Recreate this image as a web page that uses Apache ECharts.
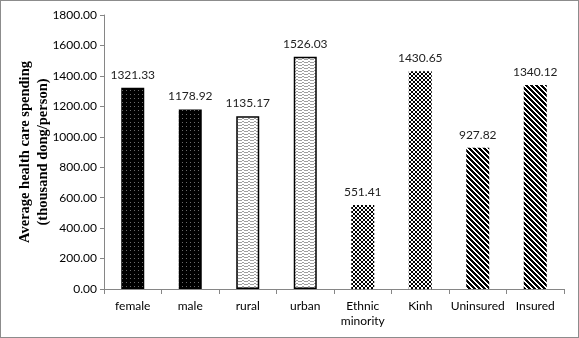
<!DOCTYPE html>
<html><head><meta charset="utf-8">
<script src="https://cdn.jsdelivr.net/npm/echarts@6/dist/echarts.min.js"></script>
<style>html,body{margin:0;padding:0;background:#fff}#c{width:579px;height:338px;box-sizing:border-box;border:1px solid #8c8c8c}</style>
</head><body><div id="c"></div>
<script>
var categories = ['female','male','rural','urban','Ethnic\nminority','Kinh','Uninsured','Insured'];
var values = [1321.33,1178.92,1135.17,1526.03,551.41,1430.65,927.82,1340.12];
var yTicks = {min:0,max:1800,interval:200};
var patternKinds = ['dots','dots','wave','wave','checker','checker','diag','diag'];

function makePattern(kind){
  var c=document.createElement('canvas');
  var ctx;
  if(kind==='dots'){
    c.width=4;c.height=4;ctx=c.getContext('2d');
    ctx.fillStyle='#000';ctx.fillRect(0,0,4,4);
    ctx.fillStyle='#6a6a6a';ctx.fillRect(1,1,1,1);
  } else if(kind==='wave'){
    c.width=6;c.height=3;ctx=c.getContext('2d');
    ctx.fillStyle='#fff';ctx.fillRect(0,0,6,3);
    ctx.fillStyle='#a0a0a0';
    ctx.fillRect(0,1,1,1);ctx.fillRect(1,0,2,1);ctx.fillRect(3,1,1,1);ctx.fillRect(4,1,2,1);
  } else if(kind==='checker'){
    c.width=4;c.height=4;ctx=c.getContext('2d');
    ctx.fillStyle='#fff';ctx.fillRect(0,0,4,4);
    ctx.fillStyle='#000';ctx.fillRect(0,0,2,2);ctx.fillRect(2,2,2,2);
  } else {
    c.width=5;c.height=5;ctx=c.getContext('2d');
    ctx.fillStyle='#fff';ctx.fillRect(0,0,5,5);
    ctx.fillStyle='#000';
    for(var i=0;i<5;i++){ctx.fillRect(i,i,1,1);ctx.fillRect((i+1)%5,i,1,1);ctx.fillRect((i+2)%5,i,1,1);}
  }
  return {image:c,repeat:'repeat'};
}

var data = values.map(function(v,i){
  var k=patternKinds[i];
  return {value:v,itemStyle:{color:makePattern(k),borderColor:k==='wave'?'#000':'transparent',borderWidth:k==='wave'?1.5:0}};
});

var chart = echarts.init(document.getElementById('c'),null,{renderer:'canvas'});
chart.setOption({
  animation:false,
  grid:{left:103,right:14,top:14,bottom:48,containLabel:false,outerBoundsMode:'none'},
  xAxis:{type:'category',data:categories,
    axisLine:{lineStyle:{color:'#868686',width:1}},
    axisTick:{show:true,length:5,lineStyle:{color:'#868686'},alignWithLabel:false},
    axisLabel:{color:'#000',fontFamily:'Lato',fontSize:12,margin:10,lineHeight:15,interval:0}
  },
  yAxis:{type:'value',min:yTicks.min,max:yTicks.max,interval:yTicks.interval,
    name:'Average health care spending\n(thousand dong/person)',
    nameLocation:'middle',nameGap:52,nameMoveOverlap:false,
    nameTextStyle:{fontFamily:'Liberation Serif',fontWeight:'bold',fontSize:14.5,color:'#000',lineHeight:18},
    axisLine:{show:true,lineStyle:{color:'#868686'}},
    axisTick:{show:true,length:4,lineStyle:{color:'#868686'}},
    splitLine:{show:false},
    axisLabel:{color:'#000',fontFamily:'Lato',fontSize:12,margin:7,formatter:function(v){return v.toFixed(2);}}
  },
  series:[{type:'bar',data:data,barWidth:23,
    label:{show:true,position:'top',distance:7,color:'#222',fontFamily:'Lato',fontSize:12,formatter:function(p){return p.value.toFixed(2);}}
  }]
});
</script></body></html>
